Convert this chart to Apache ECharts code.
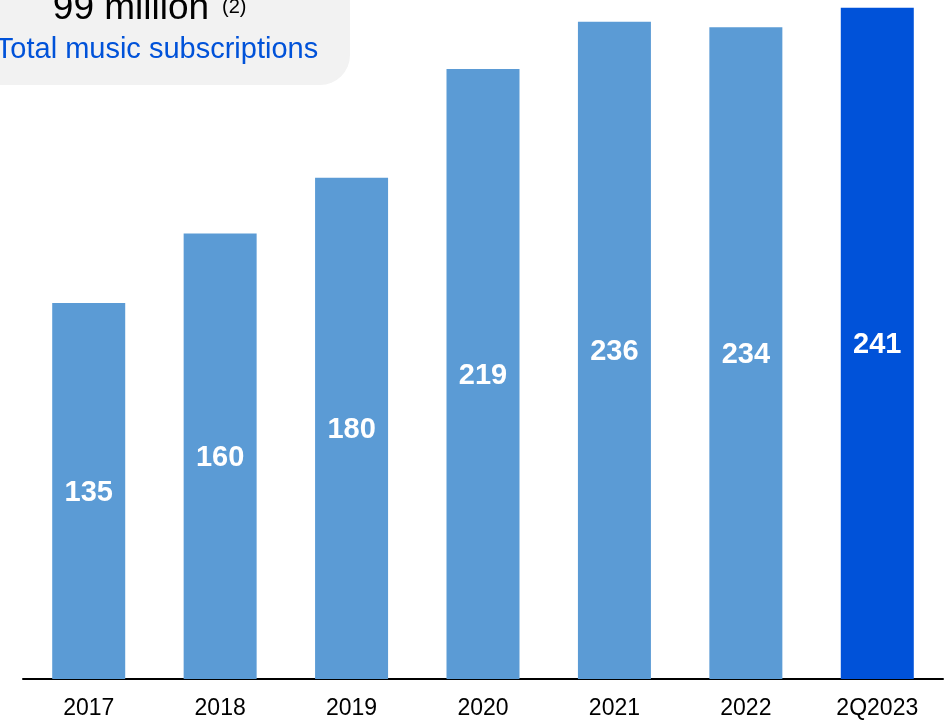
<!DOCTYPE html>
<html>
<head>
<meta charset="utf-8">
<title>Total music subscriptions</title>
<script src="https://cdn.jsdelivr.net/npm/echarts@6/dist/echarts.min.js"></script>
<style>
  html, body { margin: 0; padding: 0; background: #ffffff; }
  #chart { width: 947px; height: 721px; }
</style>
</head>
<body>
<div id="chart"></div>
<script>
// Subscriptions per period, in millions
const categories = ['2017', '2018', '2019', '2020', '2021', '2022', '2Q2023'];
const subscriptions = [135, 160, 180, 219, 236, 234, 241];
const calloutValue = '99 million';
const calloutNote = '(2)';
const calloutCaption = 'Total music subscriptions';

const BAR_BLUE = '#5b9bd5';
const HIGHLIGHT_BLUE = '#0052d9';
const FONT = 'Liberation Sans, Arial, sans-serif';

const chart = echarts.init(document.getElementById('chart'), null, { renderer: 'canvas' });

chart.setOption({
  animation: false,
  backgroundColor: '#ffffff',
  grid: { left: 23, right: 4, top: 0, bottom: 42, containLabel: false },
  xAxis: {
    type: 'category',
    data: categories,
    axisLine: { show: true, lineStyle: { color: '#000000', width: 2 } },
    axisTick: { show: false },
    axisLabel: { color: '#000000', fontSize: 23, fontFamily: FONT, margin: 18 }
  },
  yAxis: {
    type: 'value',
    min: 0,
    max: 243.8,
    show: false,
    splitLine: { show: false }
  },
  series: [{
    type: 'bar',
    barWidth: 73,
    data: subscriptions.map((v, i) => ({
      value: v,
      itemStyle: { color: i === subscriptions.length - 1 ? HIGHLIGHT_BLUE : BAR_BLUE }
    })),
    label: {
      show: true,
      position: 'inside',
      offset: [0, 2],
      color: '#ffffff',
      fontSize: 29,
      fontWeight: 'bold',
      fontFamily: FONT
    }
  }],
  graphic: [
    {
      type: 'rect',
      z: 1,
      shape: { x: -40, y: -60, width: 390, height: 145, r: 30 },
      style: { fill: '#f2f2f2' }
    },
    {
      type: 'text',
      z: 2,
      x: 131,
      y: 27,
      style: {
        text: calloutValue,
        fill: '#000000',
        font: '37px ' + FONT,
        textAlign: 'center',
        textVerticalAlign: 'bottom'
      }
    },
    {
      type: 'text',
      z: 2,
      x: 222,
      y: -3,
      style: {
        text: calloutNote,
        fill: '#000000',
        font: '20px ' + FONT,
        textAlign: 'left',
        textVerticalAlign: 'top'
      }
    },
    {
      type: 'text',
      z: 2,
      x: 157,
      y: 64,
      style: {
        text: calloutCaption,
        fill: HIGHLIGHT_BLUE,
        font: '29px ' + FONT,
        textAlign: 'center',
        textVerticalAlign: 'bottom'
      }
    }
  ]
});
</script>
</body>
</html>
